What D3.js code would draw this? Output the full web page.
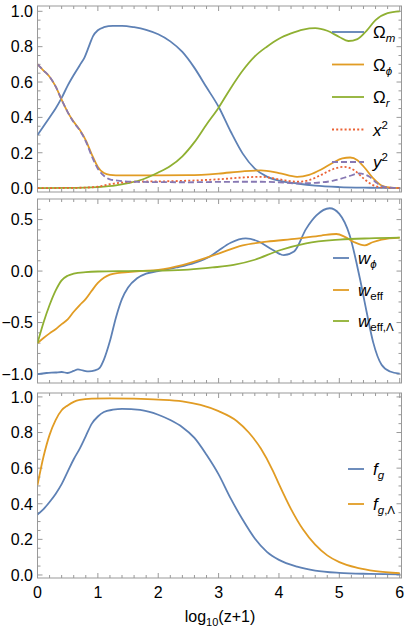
<!DOCTYPE html>
<html><head><meta charset="utf-8">
<script src="https://cdn.jsdelivr.net/npm/d3@7"></script>
<style>body{margin:0;background:#fff}text{font-family:"Liberation Sans",Arial,sans-serif}</style>
</head><body>
<svg id="c" width="407" height="630"></svg>
<script>
// ---------- data ----------
const xTicks = [0,1,2,3,4,5,6];
const yTicks1 = [0,0.2,0.4,0.6,0.8,1.0];
const yTicks2 = [-1.0,-0.5,0.0,0.5];
const yTicks3 = [0,0.2,0.4,0.6,0.8,1.0];

const omegaM = [[0,0.30],[0.1,0.35],[0.2,0.40],[0.3,0.45],[0.4,0.51],[0.5,0.58],[0.6,0.64],[0.7,0.695],[0.78,0.74],[0.85,0.80],[0.92,0.86],[1.0,0.893],[1.1,0.91],[1.25,0.918],[1.4,0.918],[1.6,0.91],[1.8,0.895],[2.0,0.87],[2.2,0.83],[2.4,0.77],[2.6,0.68],[2.8,0.57],[3.0,0.46],[3.2,0.32],[3.4,0.195],[3.6,0.11],[3.8,0.065],[4.0,0.042],[4.3,0.026],[4.6,0.014],[5.0,0.006],[5.5,0.002],[6.0,0.0]];
const omegaPhi = [[0,0.70],[0.1,0.665],[0.2,0.63],[0.3,0.575],[0.4,0.50],[0.5,0.43],[0.6,0.375],[0.7,0.33],[0.8,0.27],[0.9,0.19],[1.0,0.12],[1.1,0.085],[1.2,0.075],[1.4,0.072],[2.0,0.072],[2.5,0.073],[3.0,0.082],[3.4,0.095],[3.7,0.10],[4.0,0.085],[4.3,0.064],[4.5,0.075],[4.7,0.105],[4.9,0.145],[5.05,0.168],[5.18,0.173],[5.3,0.158],[5.42,0.115],[5.55,0.06],[5.7,0.015],[5.85,0.003],[6.0,0.0]];
const omegaR = [[0,0.0],[0.5,0.001],[1.0,0.006],[1.3,0.015],[1.5,0.028],[1.75,0.05],[2.0,0.088],[2.2,0.125],[2.4,0.18],[2.6,0.26],[2.8,0.36],[3.0,0.455],[3.2,0.565],[3.4,0.665],[3.6,0.745],[3.8,0.80],[4.0,0.845],[4.2,0.875],[4.4,0.897],[4.6,0.905],[4.8,0.89],[5.0,0.855],[5.15,0.832],[5.3,0.843],[5.45,0.89],[5.6,0.95],[5.8,0.99],[6.0,1.0]];
const xSq = [[0,0.0],[0.5,0.001],[0.8,0.003],[1.0,0.008],[1.2,0.022],[1.4,0.031],[1.7,0.037],[2.0,0.038],[2.5,0.042],[3.0,0.05],[3.4,0.06],[3.7,0.064],[4.0,0.05],[4.3,0.036],[4.5,0.045],[4.7,0.075],[4.9,0.108],[5.08,0.12],[5.25,0.10],[5.4,0.055],[5.55,0.018],[5.7,0.004],[6.0,0.0]];
const ySq = [[0,0.70],[0.1,0.665],[0.2,0.63],[0.3,0.575],[0.4,0.50],[0.5,0.43],[0.6,0.372],[0.7,0.327],[0.8,0.265],[0.9,0.18],[1.0,0.11],[1.1,0.07],[1.2,0.05],[1.4,0.04],[1.7,0.035],[2.0,0.034],[2.5,0.033],[3.0,0.035],[3.4,0.036],[3.7,0.036],[4.0,0.033],[4.3,0.027],[4.6,0.03],[4.9,0.042],[5.15,0.066],[5.33,0.083],[5.5,0.064],[5.6,0.035],[5.7,0.012],[5.85,0.003],[6.0,0.0]];

const wPhi = [[0,-1.0],[0.15,-0.99],[0.3,-0.985],[0.4,-0.98],[0.5,-0.99],[0.6,-0.97],[0.67,-0.955],[0.75,-0.965],[0.85,-0.975],[0.95,-0.965],[1.03,-0.94],[1.1,-0.86],[1.2,-0.68],[1.3,-0.45],[1.4,-0.27],[1.5,-0.16],[1.65,-0.07],[1.8,-0.025],[2.0,0.0],[2.3,0.035],[2.6,0.08],[2.85,0.14],[3.0,0.2],[3.2,0.275],[3.45,0.317],[3.65,0.29],[3.9,0.205],[4.08,0.155],[4.25,0.19],[4.45,0.41],[4.62,0.54],[4.84,0.61],[5.0,0.555],[5.17,0.35],[5.34,-0.07],[5.45,-0.39],[5.56,-0.69],[5.7,-0.91],[5.84,-0.975],[6.0,-0.995]];
const wEff = [[0,-0.7],[0.1,-0.65],[0.2,-0.605],[0.3,-0.565],[0.4,-0.515],[0.5,-0.47],[0.6,-0.395],[0.7,-0.33],[0.8,-0.27],[0.9,-0.19],[1.0,-0.115],[1.1,-0.065],[1.2,-0.035],[1.35,-0.018],[1.5,-0.01],[1.7,0.0],[2.0,0.012],[2.4,0.058],[2.85,0.14],[3.0,0.17],[3.4,0.25],[3.8,0.285],[4.3,0.315],[4.7,0.345],[4.95,0.36],[5.1,0.33],[5.25,0.28],[5.42,0.25],[5.55,0.28],[5.7,0.305],[6.0,0.325]];
const wEffL = [[0,-0.7],[0.1,-0.5],[0.2,-0.33],[0.3,-0.19],[0.4,-0.09],[0.5,-0.045],[0.6,-0.025],[0.8,-0.01],[1.0,-0.004],[1.5,0.0],[2.0,0.004],[2.5,0.014],[2.9,0.035],[3.25,0.06],[3.6,0.11],[4.0,0.2],[4.45,0.27],[5.0,0.305],[5.5,0.318],[6.0,0.325]];

const fG = [[0,0.34],[0.1,0.37],[0.2,0.41],[0.3,0.455],[0.4,0.51],[0.5,0.58],[0.6,0.65],[0.7,0.71],[0.8,0.78],[0.9,0.85],[1.0,0.89],[1.1,0.915],[1.25,0.928],[1.4,0.933],[1.7,0.927],[2.0,0.90],[2.2,0.87],[2.4,0.83],[2.6,0.77],[2.8,0.675],[3.0,0.565],[3.2,0.43],[3.4,0.31],[3.6,0.205],[3.8,0.13],[4.0,0.085],[4.3,0.047],[4.6,0.025],[5.0,0.012],[5.5,0.006],[6.0,0.003]];
const fGL = [[0,0.505],[0.1,0.665],[0.2,0.787],[0.3,0.87],[0.4,0.925],[0.5,0.952],[0.6,0.972],[0.7,0.983],[0.9,0.99],[1.2,0.992],[1.6,0.99],[2.0,0.985],[2.4,0.975],[2.7,0.955],[3.0,0.92],[3.3,0.865],[3.5,0.8],[3.7,0.71],[3.9,0.585],[4.0,0.51],[4.2,0.37],[4.4,0.255],[4.6,0.17],[4.8,0.11],[5.0,0.072],[5.3,0.04],[5.6,0.022],[6.0,0.01]];

// ---------- styles ----------
const C = {blue:"#5E81B5", orange:"#E19C24", green:"#8FB032", red:"#EB6235", purple:"#8778B3"};
const svg = d3.select("#c");
const x = d3.scaleLinear().domain([0,6.03]).range([37.5,401.5]);
const fmt = v => (v<0?"\u2212":"") + Math.abs(v).toFixed(1);

const panels = [
  {dom:[-0.022,1.03], rng:[192,6], ticks:yTicks1, minor:0.05, xlabels:false,
   series:[{d:omegaM,c:C.blue},{d:omegaPhi,c:C.orange},{d:omegaR,c:C.green},{d:xSq,c:C.red,dash:"2,2.2"},{d:ySq,c:C.purple,dash:"6,3"}],
   legend:{x1:332,x2:364,tx:373,ys:[32,64.5,97,129.5,162],items:[
     {c:C.blue,t:[["Ω",""],["m","sub"]]},
     {c:C.orange,t:[["Ω",""],["ϕ","sub"]]},
     {c:C.green,t:[["Ω",""],["r","sub"]]},
     {c:C.red,dash:"2,2.2",t:[["x","it"],["2","sup"]]},
     {c:C.purple,dash:"6,3",t:[["y","it"],["2","sup"]]}]}},
  {dom:[-1.087,0.70], rng:[383,199], ticks:yTicks2, minor:0.1, xlabels:false,
   series:[{d:wPhi,c:C.blue},{d:wEff,c:C.orange},{d:wEffL,c:C.green}],
   legend:{x1:333,x2:349,tx:358,ys:[258,290,321],items:[
     {c:C.blue,t:[["w","it"],["ϕ","subit"]]},
     {c:C.orange,t:[["w","it"],["eff","subup"]]},
     {c:C.green,t:[["w","it"],["eff,Λ","subup"]]}]}},
  {dom:[-0.017,1.022], rng:[578,393], ticks:yTicks3, minor:0.05, xlabels:true,
   series:[{d:fG,c:C.blue},{d:fGL,c:C.orange}],
   legend:{x1:348,x2:364,tx:373,ys:[469,504],items:[
     {c:C.blue,t:[["f","it"],["g","subit"]]},
     {c:C.orange,t:[["f","it"],["g","subit"],[",Λ","subup"]]}]}}
];

const frameCol = "#999";
const xMinor = d3.range(0,6.001,0.2).filter(v=>Math.abs(v-Math.round(v))>1e-6);

panels.forEach(p=>{
  const y = d3.scaleLinear().domain(p.dom).range(p.rng);
  const g = svg.append("g");
  const x0=x.range()[0], x1=x.range()[1], yb=p.rng[0], yt=p.rng[1];
  const clipId = "clip"+Math.random().toString(36).slice(2);
  svg.append("clipPath").attr("id",clipId).append("rect").attr("x",x0).attr("y",yt).attr("width",x1-x0).attr("height",yb-yt);

  // ticks
  const tk = g.append("g").attr("stroke",frameCol).attr("stroke-width",1);
  xTicks.forEach(v=>{
    tk.append("line").attr("x1",x(v)).attr("x2",x(v)).attr("y1",yb).attr("y2",yb-5);
    tk.append("line").attr("x1",x(v)).attr("x2",x(v)).attr("y1",yt).attr("y2",yt+5);
  });
  xMinor.forEach(v=>{
    tk.append("line").attr("x1",x(v)).attr("x2",x(v)).attr("y1",yb).attr("y2",yb-3);
    tk.append("line").attr("x1",x(v)).attr("x2",x(v)).attr("y1",yt).attr("y2",yt+3);
  });
  const ymin = d3.min(p.ticks), ymax = d3.max(p.ticks);
  const yMinor = d3.range(Math.ceil(p.dom[0]/p.minor)*p.minor, p.dom[1], p.minor)
     .filter(v=>!p.ticks.some(t=>Math.abs(t-v)<1e-6));
  p.ticks.forEach(v=>{
    tk.append("line").attr("x1",x0).attr("x2",x0+5).attr("y1",y(v)).attr("y2",y(v));
    tk.append("line").attr("x1",x1).attr("x2",x1-5).attr("y1",y(v)).attr("y2",y(v));
  });
  yMinor.forEach(v=>{
    tk.append("line").attr("x1",x0).attr("x2",x0+3).attr("y1",y(v)).attr("y2",y(v));
    tk.append("line").attr("x1",x1).attr("x2",x1-3).attr("y1",y(v)).attr("y2",y(v));
  });
  // frame
  g.append("rect").attr("x",x0).attr("y",yt).attr("width",x1-x0).attr("height",yb-yt)
    .attr("fill","none").attr("stroke",frameCol).attr("stroke-width",1);
  // y labels
  p.ticks.forEach(v=>{
    g.append("text").attr("x",33).attr("y",y(v)).attr("dy","0.36em").attr("text-anchor","end")
      .attr("font-size",16).attr("fill","#000").text(fmt(v));
  });
  if(p.xlabels){
    xTicks.forEach(v=>{
      g.append("text").attr("x",x(v)).attr("y",598).attr("text-anchor","middle")
        .attr("font-size",16).attr("fill","#000").text(v);
    });
  }
  // series
  const line = d3.line().x(d=>x(d[0])).y(d=>y(d[1])).curve(d3.curveMonotoneX);
  const sg = g.append("g").attr("clip-path","url(#"+clipId+")");
  p.series.forEach(s=>{
    sg.append("path").attr("d",line(s.d)).attr("fill","none").attr("stroke",s.c)
      .attr("stroke-width",1.8).attr("stroke-dasharray",s.dash||null)
      .attr("stroke-linejoin","round");
  });
  // legend
  const L = p.legend;
  L.items.forEach((it,i)=>{
    const yy = L.ys[i];
    g.append("line").attr("x1",L.x1).attr("x2",L.x2).attr("y1",yy).attr("y2",yy)
      .attr("stroke",it.c).attr("stroke-width",1.8).attr("stroke-dasharray",it.dash||null);
    const t = g.append("text").attr("x",L.tx).attr("y",yy+6).attr("font-size",17).attr("fill","#000");
    let shift = 0;
    it.t.forEach(([s,k])=>{
      const ts = t.append("tspan").text(s);
      let target = 0;
      if(k==="it"){ts.attr("font-style","italic");}
      if(k==="sub"||k==="subit"){ts.attr("font-size",11.5).attr("font-style","italic"); target=4;}
      if(k==="subup"){ts.attr("font-size",11.5); target=4;}
      if(k==="sup"){ts.attr("font-size",11.5); target=-7;}
      ts.attr("dy",target-shift); shift=target;
    });
  });
});

// x axis label
const xl = svg.append("text").attr("x",220).attr("y",622).attr("text-anchor","middle").attr("font-size",16).attr("fill","#000");
xl.append("tspan").text("log");
xl.append("tspan").text("10").attr("font-size",11).attr("dy",4);
xl.append("tspan").text("(z+1)").attr("dy",-4);
</script>
</body></html>
